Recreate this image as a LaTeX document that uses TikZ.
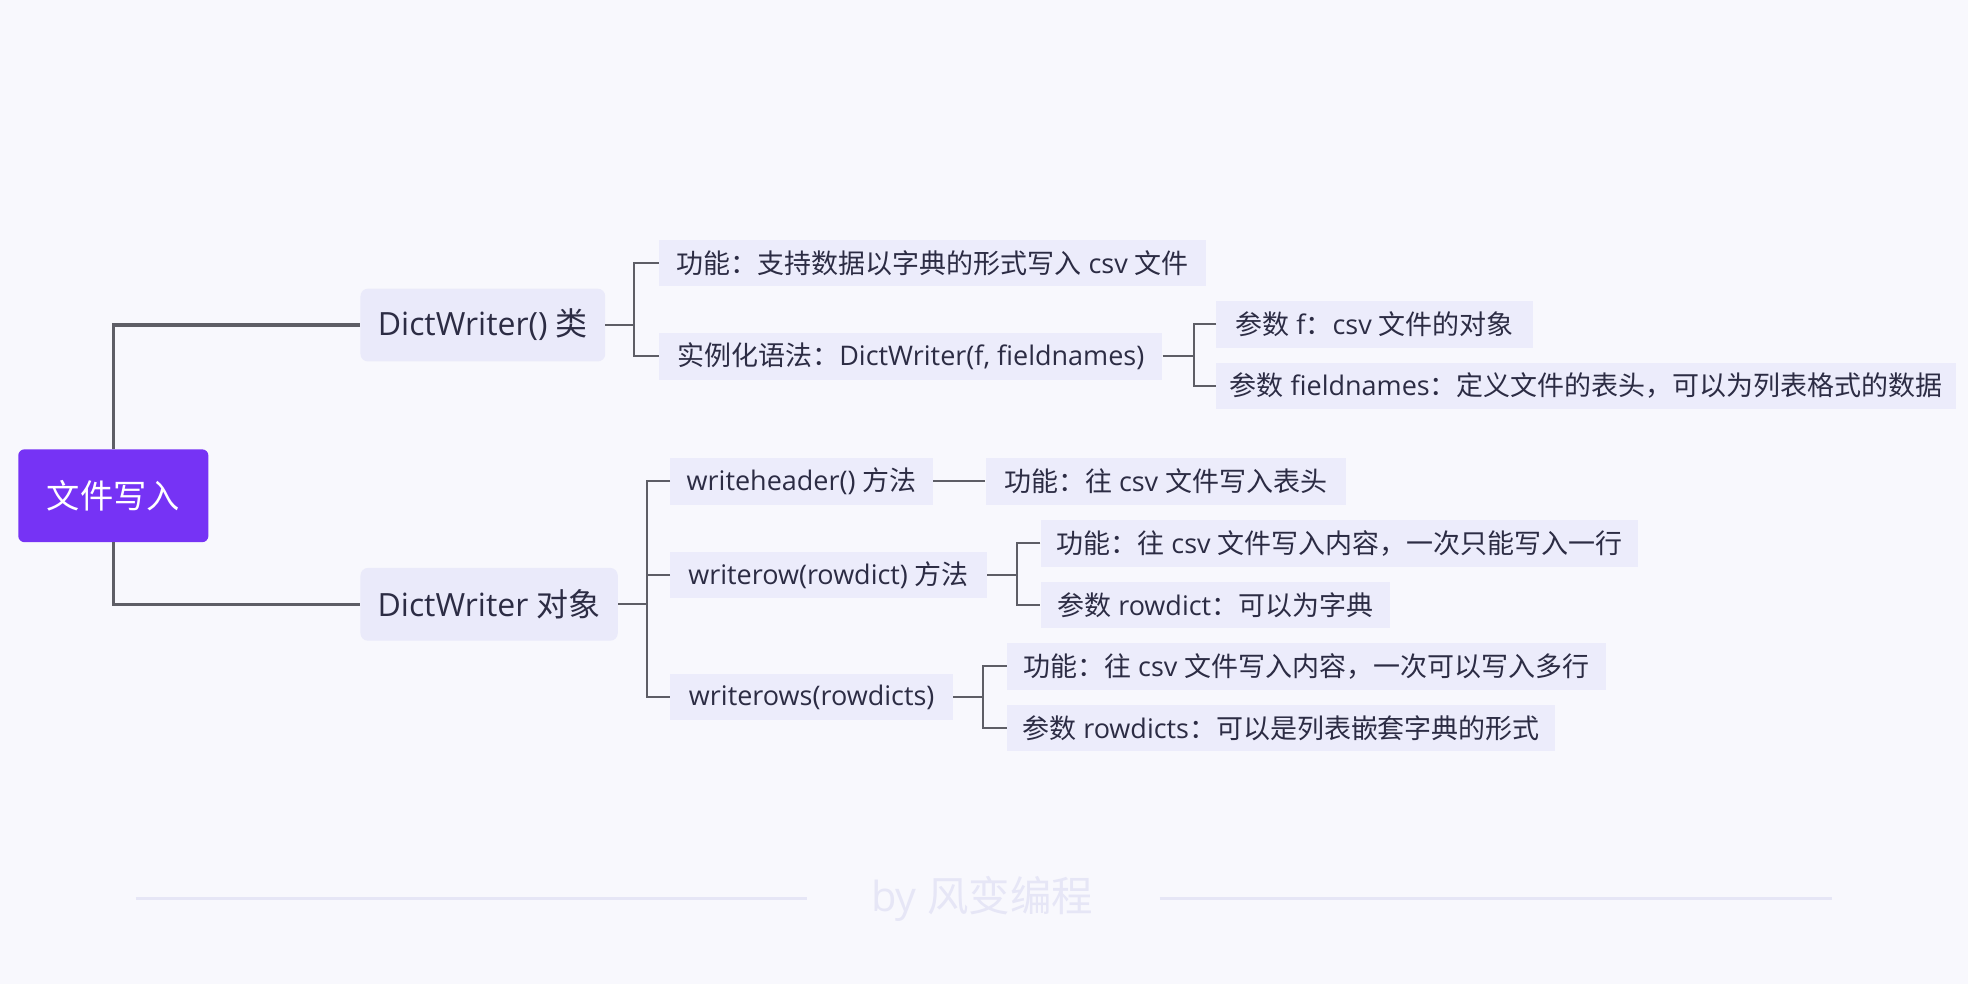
\documentclass[tikz,border=0pt]{standalone}
\usepackage{fontspec}
\setmainfont{Open Sans}
\newfontfamily\cjk{Noto Sans CJK SC}
\newcommand\zh[1]{{\cjk #1}}
\definecolor{bgc}{HTML}{F8F8FD}
\definecolor{rootc}{HTML}{7633F5}
\definecolor{l1c}{HTML}{EAEAFA}
\definecolor{l2c}{HTML}{ECECFB}
\definecolor{txtc}{HTML}{2C2C44}
\definecolor{linec}{HTML}{5E5E66}
\definecolor{footc}{HTML}{E6E6F6}
\begin{document}
\begin{tikzpicture}[x=1pt,y=1pt,
  base/.style={text=txtc, inner sep=0pt, anchor=west, font=\fontsize{21.5}{25}\selectfont},
  lone/.style={base, fill=l1c, rounded corners=6pt, minimum height=58pt, font=\fontsize{25.5}{30}\selectfont},
  ltwo/.style={base, fill=l2c, minimum height=37pt},
  rootbox/.style={fill=rootc, text=white, rounded corners=5pt, inner sep=0pt,
    minimum width=151.5pt, minimum height=74pt, font=\cjk\fontsize{26.5}{30}\selectfont},
  conn/.style={draw=linec, line width=1.6pt},
  mainconn/.style={draw=linec, line width=2.6pt},
  footline/.style={draw=footc, line width=2pt},
]
\useasboundingbox (0,0) rectangle (1568,-784);
\fill[bgc] (0,0) rectangle (1568,-784);

\node[rootbox] (root) at (90.3,-395) {文件写入};

\node[lone, minimum width=195pt] (a) at (287,-259) {DictWriter() \zh{类}};
\node[lone, minimum width=205pt] (b) at (287,-481.5) {DictWriter \zh{对象}};

\node[ltwo, minimum width=436pt] (a1) at (525,-209.5) {\zh{功能：支持数据以字典的形式写入} csv \zh{文件}};
\node[ltwo, minimum width=401pt] (a2) at (525,-284) {\zh{实例化语法：}DictWriter(f, fieldnames)};
\node[ltwo, minimum width=252pt] (a21) at (969,-258.5) {\zh{参数} f\zh{：}csv \zh{文件的对象}};
\node[ltwo, minimum width=589pt] (a22) at (969,-307.5) {\zh{参数} fieldnames\zh{：定义文件的表头，可以为列表格式的数据}};

\node[ltwo, minimum width=209pt] (b1) at (534,-383.5) {writeheader() \zh{方法}};
\node[ltwo, minimum width=287pt] (b1c) at (785,-383.5) {\zh{功能：往} csv \zh{文件写入表头}};
\node[ltwo, minimum width=252pt] (b2) at (534,-458) {writerow(rowdict) \zh{方法}};
\node[ltwo, minimum width=476pt] (b21) at (829,-433) {\zh{功能：往} csv \zh{文件写入内容，一次只能写入一行}};
\node[ltwo, minimum width=278pt] (b22) at (829,-482) {\zh{参数} rowdict\zh{：可以为字典}};
\node[ltwo, minimum width=225pt] (b3) at (534,-555.5) {writerows(rowdicts)};
\node[ltwo, minimum width=477pt] (b31) at (802,-531) {\zh{功能：往} csv \zh{文件写入内容，一次可以写入多行}};
\node[ltwo, minimum width=437pt] (b32) at (802,-580) {\zh{参数} rowdicts\zh{：可以是列表嵌套字典的形式}};

% connectors
\draw[mainconn] (root.north) |- (a.west);
\draw[mainconn] (root.south) |- (b.west);

\draw[conn] (a.east) -- ++(23,0) coordinate (ja);
\draw[conn] (a1.west) -| (ja) |- (a2.west);

\draw[conn] (a2.east) -- ++(25,0) coordinate (jc);
\draw[conn] (a21.west) -| (jc) |- (a22.west);

\draw[conn] (b.east) -- ++(23,0) coordinate (jb);
\draw[conn] (b1.west) -| (jb) |- (b3.west);
\draw[conn] (b2.west) -- (b2.west -| jb);

\draw[conn] (b1.east) -- (b1c.west);

\draw[conn] (b2.east) -- ++(24,0) coordinate (jd);
\draw[conn] (b21.west) -| (jd) |- (b22.west);

\draw[conn] (b3.east) -- ++(24,0) coordinate (je);
\draw[conn] (b31.west) -| (je) |- (b32.west);

% footer
\node[text=footc, inner sep=0pt, font=\fontsize{33}{36}\selectfont] (foot) at (782.5,-716) {by \zh{风变编程}};
\coordinate (fl1) at (108,-716);
\coordinate (fr2) at (1460,-716);
\draw[footline] (fl1) -- (643,-716);
\draw[footline] (924,-716) -- (fr2);
\end{tikzpicture}
\end{document}
